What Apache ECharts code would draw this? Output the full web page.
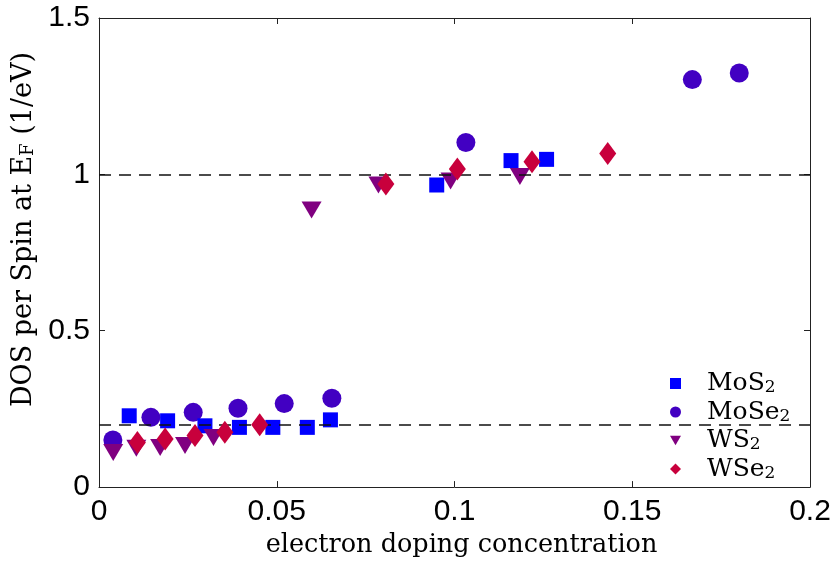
<!DOCTYPE html>
<html>
<head>
<meta charset="utf-8">
<script src="https://cdn.jsdelivr.net/npm/echarts@6/dist/echarts.min.js"></script>
<style>
html, body { margin: 0; padding: 0; background: #fff; }
#chart { width: 834px; height: 563px; }
</style>
</head>
<body>
<div id="chart"></div>
<script>
// Electron doping concentration (x) and DOS per spin at E_F (y) for each material
const mos2X  = [0.0085, 0.0193, 0.0298, 0.0395, 0.0489, 0.0586, 0.0651, 0.0950, 0.1159, 0.1259];
const mos2Y  = [0.228, 0.212, 0.196, 0.191, 0.191, 0.191, 0.215, 0.966, 1.044, 1.048];

const mose2X = [0.0039, 0.0146, 0.0265, 0.0391, 0.0521, 0.0655, 0.1032, 0.1669, 0.1801];
const mose2Y = [0.151, 0.223, 0.239, 0.252, 0.267, 0.284, 1.102, 1.303, 1.324];

const ws2X   = [0.0040, 0.0105, 0.0172, 0.0242, 0.0322, 0.0598, 0.0786, 0.0989, 0.1184];
const ws2Y   = [0.111, 0.124, 0.127, 0.133, 0.159, 0.886, 0.966, 0.979, 0.993];

const wse2X  = [0.0108, 0.0186, 0.0270, 0.0354, 0.0452, 0.0807, 0.1008, 0.1218, 0.1431];
const wse2Y  = [0.143, 0.154, 0.165, 0.175, 0.199, 0.969, 1.017, 1.040, 1.067];

// Horizontal guide levels
const guideLevels = [0.2, 1];

// Axis ticks
const xTicks = [0, 0.05, 0.1, 0.15, 0.2];
const yTicks = [0, 0.5, 1, 1.5];

const legendNames = ['MoS2', 'MoSe2', 'WS2', 'WSe2'];

const pairs = (xs, ys) => xs.map((x, i) => [x, ys[i]]);

const serif = 'DejaVu Serif';
const sans = 'Liberation Sans';
const axisColor = '#222';

const chart = echarts.init(document.getElementById('chart'), null, { renderer: 'canvas' });

const tickLabel = { fontFamily: sans, fontSize: 30, color: '#000' };

// Shared frame style: plain line with short inward ticks
const frameLine = { show: true, onZero: false, lineStyle: { color: axisColor, width: 1 } };
const frameTick = { show: true, inside: true, length: 6, lineStyle: { color: axisColor } };

const option = {
  animation: false,
  backgroundColor: '#fff',
  grid: { left: 99, right: 24, top: 18, bottom: 72, containLabel: false },
  xAxis: [
    {
      type: 'value', min: xTicks[0], max: xTicks[xTicks.length - 1], interval: 0.05,
      position: 'bottom',
      axisLine: frameLine, axisTick: frameTick,
      splitLine: { show: false },
      axisLabel: Object.assign({ margin: 10, formatter: v => String(+v.toFixed(2)) }, tickLabel),
      name: 'electron doping concentration',
      nameLocation: 'middle', nameGap: 44,
      nameTextStyle: { fontFamily: serif, fontSize: 25.5, color: '#000', padding: [0, 0, 0, 14] }
    },
    {
      type: 'value', min: xTicks[0], max: xTicks[xTicks.length - 1], interval: 0.05,
      position: 'top',
      axisLine: frameLine, axisTick: frameTick,
      axisLabel: { show: false }, splitLine: { show: false }
    }
  ],
  yAxis: [
    {
      type: 'value', min: yTicks[0], max: yTicks[yTicks.length - 1], interval: 0.5,
      position: 'left',
      axisLine: frameLine, axisTick: frameTick,
      splitLine: { show: false },
      axisLabel: Object.assign({ margin: 9, formatter: v => String(+v.toFixed(1)) }, tickLabel),
      name: '{a|DOS per Spin at E}{b|F}{a| (1/eV)}',
      nameLocation: 'middle', nameGap: 42, nameRotate: 90,
      nameTextStyle: {
        padding: [0, 0, 0, 46],
        rich: {
          a: { fontFamily: serif, fontSize: 27, color: '#000' },
          b: { fontFamily: serif, fontSize: 18, color: '#000', padding: [9, 0, 0, 0] }
        }
      }
    },
    {
      type: 'value', min: yTicks[0], max: yTicks[yTicks.length - 1], interval: 0.5,
      position: 'right',
      axisLine: frameLine, axisTick: frameTick,
      axisLabel: { show: false }, splitLine: { show: false }
    }
  ],
  legend: {
    data: [
      { name: 'MoS2', icon: 'rect' },
      { name: 'MoSe2', icon: 'circle' },
      { name: 'WS2', icon: 'path://M0,0L20,0L10,17Z' },
      { name: 'WSe2', icon: 'diamond' }
    ],
    orient: 'vertical',
    left: 665, top: 366,
    itemWidth: 11, itemHeight: 11, itemGap: 3,
    selectedMode: false,
    formatter: n => '{a|' + n.slice(0, -1) + '}{b|2}',
    textStyle: {
      padding: [0, 0, 0, 21],
      rich: {
        a: { fontFamily: serif, fontSize: 25, color: '#000' },
        b: { fontFamily: serif, fontSize: 17, color: '#000', padding: [9, 0, 0, 0] }
      }
    }
  },
  series: [
    {
      name: 'MoSe2', type: 'scatter', data: pairs(mose2X, mose2Y),
      symbol: 'circle', symbolSize: 19,
      itemStyle: { color: '#4200C2', opacity: 1 }, z: 2
    },
    {
      name: 'MoS2', type: 'scatter', data: pairs(mos2X, mos2Y),
      symbol: 'rect', symbolSize: 15,
      itemStyle: { color: '#0000FF', opacity: 1 }, z: 3
    },
    {
      name: 'WS2', type: 'scatter', data: pairs(ws2X, ws2Y),
      symbol: 'triangle', symbolRotate: 180, symbolSize: [20, 17],
      itemStyle: { color: '#800080', opacity: 1 }, z: 4
    },
    {
      name: 'WSe2', type: 'scatter', data: pairs(wse2X, wse2Y),
      symbol: 'diamond', symbolSize: [17, 23],
      itemStyle: { color: '#C8003C', opacity: 1 }, z: 5
    },
    {
      name: 'guides', type: 'line', data: [], z: 10, silent: true,
      markLine: {
        silent: true, symbol: ['none', 'none'], label: { show: false },
        lineStyle: { color: '#111', type: [12, 8], width: 1.5 },
        data: guideLevels.map(v => ({ yAxis: v }))
      }
    }
  ]
};

chart.setOption(option);
</script>
</body>
</html>
